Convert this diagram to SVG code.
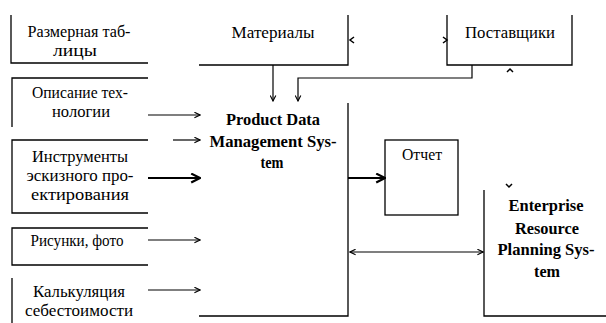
<svg xmlns="http://www.w3.org/2000/svg" width="606" height="323" viewBox="0 0 606 323">
<style>
.b{fill:none;stroke:#000;stroke-width:1.3}
.c{fill:none;stroke:#000;stroke-width:1.2}
.k{fill:none;stroke:#000;stroke-width:2.2}
.h{fill:none;stroke:#000;stroke-width:1.5}
.t{font-family:"Liberation Serif","Times New Roman",Times,serif;font-size:16px;fill:#000;text-anchor:middle}
.bd{font-weight:bold}
</style>
<defs>
<marker id="a" viewBox="0 0 10 10" refX="9" refY="5" markerWidth="7" markerHeight="7" markerUnits="userSpaceOnUse" orient="auto-start-reverse"><path d="M1,1 L9,5 L1,9" fill="none" stroke="#000" stroke-width="1.6"/></marker>
<marker id="t" viewBox="0 0 10 10" refX="9" refY="5" markerWidth="11" markerHeight="11" markerUnits="userSpaceOnUse" orient="auto"><path d="M1,1 L9,5 L1,9" fill="none" stroke="#000" stroke-width="2"/></marker>
</defs>
<g id="n1"><path class="b" d="M11,15 V63 H148"/><text class="t" x="79" y="37" textLength="103" lengthAdjust="spacingAndGlyphs">Размерная таб-</text><text class="t" x="75" y="56" textLength="44" lengthAdjust="spacingAndGlyphs">лицы</text></g>
<g id="n2"><path class="b" d="M12,127 V78 H148"/><text class="t" x="80" y="98" textLength="96" lengthAdjust="spacingAndGlyphs">Описание тех-</text><text class="t" x="81" y="117" textLength="58" lengthAdjust="spacingAndGlyphs">нологии</text></g>
<g id="n3"><path class="b" d="M148,140 H12 V213 H148"/><text class="t" x="80" y="162" textLength="96" lengthAdjust="spacingAndGlyphs">Инструменты</text><text class="t" x="80" y="181" textLength="107" lengthAdjust="spacingAndGlyphs">эскизного про-</text><text class="t" x="80" y="200" textLength="98" lengthAdjust="spacingAndGlyphs">ектирования</text></g>
<g id="n4"><path class="b" d="M148,228 H12 V265 H148"/><text class="t" x="77" y="246" textLength="93" lengthAdjust="spacingAndGlyphs">Рисунки, фото</text></g>
<g id="n5"><path class="b" d="M12,278 V323"/><text class="t" x="79" y="297" textLength="92" lengthAdjust="spacingAndGlyphs">Калькуляция</text><text class="t" x="79" y="316" textLength="108" lengthAdjust="spacingAndGlyphs">себестоимости</text></g>
<g id="materials"><path class="b" d="M199,65 H348 V15"/><text class="t" x="273" y="38" textLength="83" lengthAdjust="spacingAndGlyphs">Материалы</text></g>
<g id="suppliers"><path class="b" d="M447,15 V65 H572 V15"/><text class="t" x="510" y="38" textLength="90" lengthAdjust="spacingAndGlyphs">Поставщики</text></g>
<g id="pdm"><path class="b" d="M348,103 V316 H199"/><text class="t bd" x="273" y="125" textLength="94" lengthAdjust="spacingAndGlyphs">Product Data</text><text class="t bd" x="273" y="147" textLength="127" lengthAdjust="spacingAndGlyphs">Management Sys-</text><text class="t bd" x="272" y="168" textLength="23" lengthAdjust="spacingAndGlyphs">tem</text></g>
<g id="report"><rect class="b" x="385" y="140" width="73" height="75"/><text class="t" x="422" y="160" textLength="40" lengthAdjust="spacingAndGlyphs">Отчет</text></g>
<g id="erp"><path class="b" d="M484,190 V316 H606"/><text class="t bd" x="546" y="211" textLength="75" lengthAdjust="spacingAndGlyphs">Enterprise</text><text class="t bd" x="547" y="234" textLength="64" lengthAdjust="spacingAndGlyphs">Resource</text><text class="t bd" x="546" y="255" textLength="97" lengthAdjust="spacingAndGlyphs">Planning Sys-</text><text class="t bd" x="547" y="277" textLength="26" lengthAdjust="spacingAndGlyphs">tem</text></g>
<g id="connectors">
<line class="c" x1="148" y1="115" x2="200" y2="115" marker-end="url(#a)"/>
<line class="c" x1="173" y1="140" x2="200" y2="140" marker-end="url(#a)"/>
<line class="k" x1="148" y1="178" x2="200" y2="178" marker-end="url(#t)"/>
<line class="c" x1="148" y1="240" x2="200" y2="240" marker-end="url(#a)"/>
<line class="c" x1="148" y1="290" x2="200" y2="290" marker-end="url(#a)"/>
<line class="c" x1="273" y1="65" x2="273" y2="101" marker-end="url(#a)"/>
<path class="c" d="M472,65 V78 H298 V101" marker-end="url(#a)"/>
<line class="k" x1="348" y1="178" x2="385" y2="178" marker-end="url(#t)"/>
<line class="c" x1="350" y1="252" x2="483" y2="252" marker-start="url(#a)" marker-end="url(#a)"/>
<path class="h" d="M354,37 L350,40 L354,43"/>
<path class="h" d="M443,37 L447,40 L443,43"/>
<path class="h" d="M507,72 L510,69 L513,72"/>
<path class="h" d="M506,184 L509,187 L512,184"/>
</g>
</svg>
